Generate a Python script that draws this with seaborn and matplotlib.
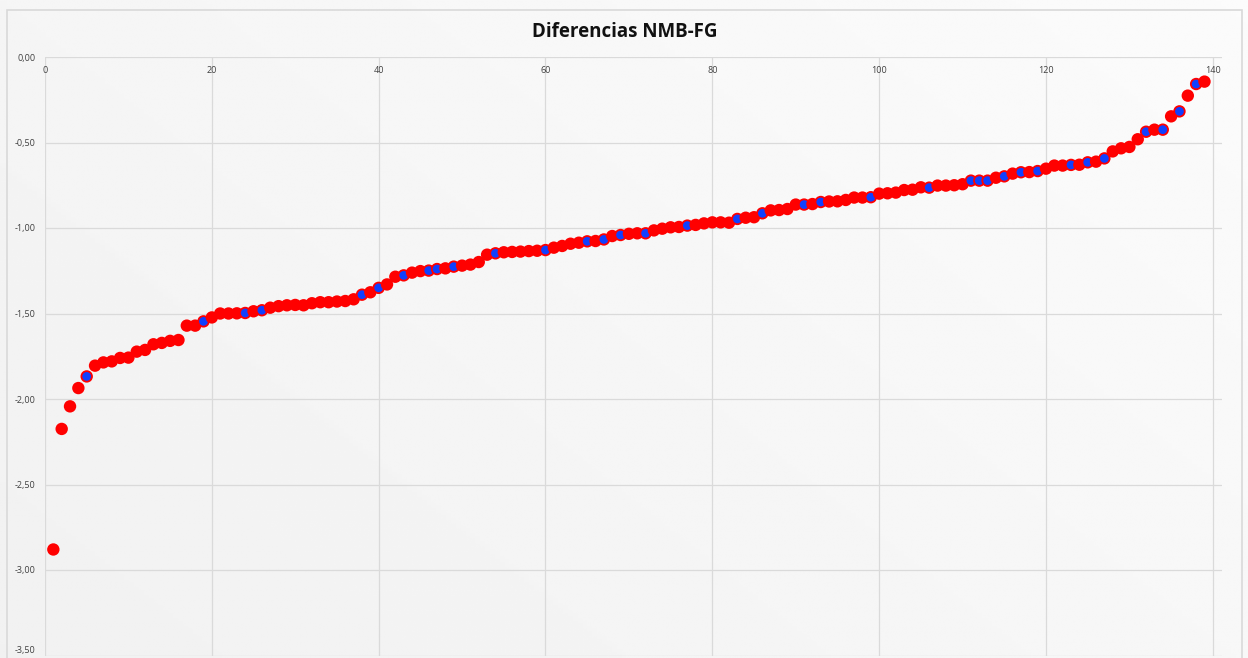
import numpy as np
import pandas as pd
import matplotlib
matplotlib.use("Agg")
import matplotlib.pyplot as plt
from matplotlib.patches import Rectangle
from matplotlib.ticker import FuncFormatter
import seaborn as sns

# ---- data ----
title = "Diferencias NMB-FG"
diferencias = [
    -2.880, -2.175, -2.043, -1.936, -1.868, -1.805, -1.786, -1.780, -1.760, -1.758,
    -1.723, -1.713, -1.680, -1.672, -1.660, -1.655, -1.571, -1.571, -1.546, -1.523,
    -1.500, -1.500, -1.499, -1.497, -1.487, -1.481, -1.466, -1.457, -1.452, -1.450,
    -1.452, -1.440, -1.434, -1.434, -1.430, -1.427, -1.417, -1.390, -1.376, -1.350,
    -1.330, -1.285, -1.277, -1.261, -1.252, -1.249, -1.240, -1.236, -1.226, -1.220,
    -1.214, -1.199, -1.156, -1.148, -1.142, -1.140, -1.138, -1.135, -1.133, -1.129,
    -1.115, -1.105, -1.092, -1.086, -1.078, -1.076, -1.067, -1.047, -1.041, -1.034,
    -1.031, -1.031, -1.014, -1.004, -0.996, -0.994, -0.986, -0.982, -0.973, -0.967,
    -0.967, -0.969, -0.947, -0.940, -0.937, -0.914, -0.897, -0.895, -0.889, -0.863,
    -0.863, -0.860, -0.848, -0.845, -0.844, -0.836, -0.822, -0.822, -0.820, -0.799,
    -0.797, -0.793, -0.778, -0.776, -0.762, -0.764, -0.752, -0.752, -0.750, -0.744,
    -0.723, -0.723, -0.723, -0.706, -0.698, -0.682, -0.674, -0.673, -0.667, -0.653,
    -0.635, -0.635, -0.631, -0.630, -0.616, -0.612, -0.593, -0.552, -0.534, -0.526,
    -0.481, -0.437, -0.425, -0.425, -0.347, -0.318, -0.226, -0.158, -0.144,
]
indices = list(range(1, len(diferencias) + 1))
azules = [5, 19, 24, 26, 38, 40, 43, 46, 47, 49, 54, 60, 65, 67, 69, 72, 77, 83,
          86, 91, 93, 99, 106, 111, 112, 113, 115, 117, 119, 123, 125, 127, 132,
          134, 136, 138]
x_ticks = [0, 20, 40, 60, 80, 100, 120, 140]
y_ticks = [0.0, -0.5, -1.0, -1.5, -2.0, -2.5, -3.0, -3.5]

df = pd.DataFrame({"n": indices, "dif": diferencias})
df["grupo"] = np.where(df["n"].isin(azules), "azul", "rojo")

sns.set_theme(style="white")
plt.rcParams["font.family"] = ["Open Sans", "DejaVu Sans"]

W, H = 1248, 658
fig = plt.figure(figsize=(W / 100, H / 100), dpi=100)
fig.patch.set_facecolor("#f4f4f4")

# subtle background gradient
bg = fig.add_axes([0, 0, 1, 1], zorder=-10)
grad = np.linspace(0, 1, 256)
gx, gy = np.meshgrid(grad, grad)
g = 0.945 + 0.04 * (0.6 * gx + 0.4 * (1 - gy))
bg.imshow(g, cmap="gray", vmin=0, vmax=1, aspect="auto", extent=[0, 1, 0, 1])
bg.set_axis_off()

# chart frame
fig.patches.append(Rectangle((7 / W, -0.02), (1242 - 7) / W, (H - 10) / H + 0.02,
                             transform=fig.transFigure, fill=False,
                             edgecolor="#d9d9d9", linewidth=1.2, zorder=-5))

left, right = 45 / W, 1222 / W
top, bottom = 1 - 57 / H, 1 - 655.5 / H
ax = fig.add_axes([left, bottom, right - left, top - bottom])
ax.set_facecolor("none")

sns.scatterplot(data=df, x="n", y="dif", hue="grupo",
                palette={"rojo": "#ff0000", "azul": "#1040ff"},
                edgecolor="#ff0000", linewidth=1.3, s=58, legend=False,
                ax=ax, zorder=3)

ax.set_xlim(0, 141.1)
ax.set_ylim(-3.5, 0)
ax.set_xticks(x_ticks)
ax.set_yticks(y_ticks)
ax.yaxis.set_major_formatter(FuncFormatter(lambda v, p: f"{v:.2f}".replace(".", ",")))
ax.set_xlabel("")
ax.set_ylabel("")

ax.grid(True, color="#dadada", linewidth=0.9)
ax.set_axisbelow(True)
for s in ax.spines.values():
    s.set_visible(False)

ax.tick_params(axis="x", top=True, labeltop=True, bottom=False, labelbottom=False,
               length=0, pad=-13, labelsize=6.5, labelcolor="#404040")
ax.tick_params(axis="y", length=0, pad=7, labelsize=6.5, labelcolor="#404040")

# keep the lowest y label inside the picture
fig.canvas.draw()
ylabels = ax.get_yticklabels()
ylabels[-1].set_verticalalignment("bottom")

fig.text(625 / W, 1 - 32 / H, title, ha="center", va="center",
         fontsize=13.5, fontweight="bold", color="#111111")

fig.savefig("out.png", dpi=100, facecolor=fig.get_facecolor())
